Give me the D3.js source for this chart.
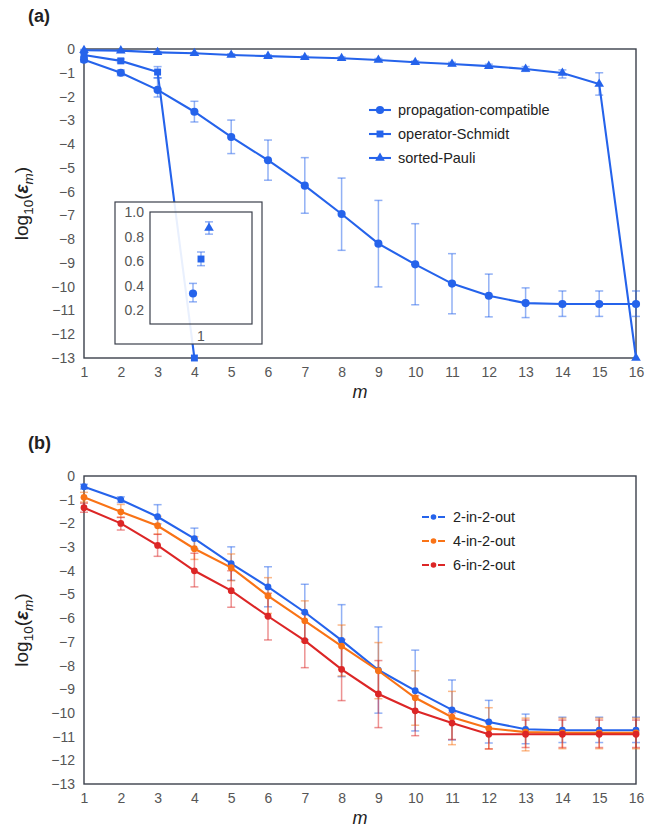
<!DOCTYPE html>
<html>
<head>
<meta charset="utf-8">
<style>
	body{ margin:0; background:#fff; }
	.tick text{ font-family: "Liberation Sans", Arial, sans-serif; font-size:14px; fill:#555; }
	.frame{ fill:none; stroke:#3b404b; stroke-width:1.4px; }
	.lbl{ font-family: "Liberation Sans", Arial, sans-serif; fill:#222; }
</style>
</head>
<body>
<script src="https://d3js.org/d3.v7.min.js"></script>
<script>

	var mVals = d3.range(1, 17);
	var yTicks = d3.range(0, -14, -1);

	// panel (a)
	var propMean = [-0.45,-1.0,-1.72,-2.64,-3.70,-4.68,-5.75,-6.94,-8.19,-9.06,-9.87,-10.38,-10.69,-10.73,-10.73,-10.73];
	var propHi   = [-0.35,-0.88,-1.21,-2.2,-2.99,-3.83,-4.57,-5.43,-6.37,-7.35,-8.61,-9.47,-10.05,-10.18,-10.18,-10.18];
	var propLo   = [-0.55,-1.12,-2.02,-3.07,-4.40,-5.52,-6.91,-8.47,-10.01,-10.76,-11.14,-11.27,-11.30,-11.25,-11.25,-11.25];

	var schmMean = [-0.25,-0.5,-0.97,-13];
	var schmHi   = [-0.18,-0.42,-0.74,-13];
	var schmLo   = [-0.32,-0.58,-1.22,-13];

	var pauliMean = [-0.05,-0.07,-0.14,-0.18,-0.25,-0.3,-0.35,-0.39,-0.46,-0.56,-0.63,-0.72,-0.84,-1.01,-1.47,-13];
	var pauliHi   = [-0.02,-0.04,-0.1,-0.14,-0.2,-0.25,-0.29,-0.33,-0.4,-0.5,-0.56,-0.64,-0.74,-0.88,-1.0,-13];
	var pauliLo   = [-0.08,-0.1,-0.18,-0.22,-0.3,-0.35,-0.41,-0.45,-0.52,-0.62,-0.7,-0.8,-0.94,-1.22,-1.94,-13];

	var namesA = ["propagation-compatible", "operator-Schmidt", "sorted-Pauli"];
	var insetMean = [0.338, 0.618, 0.87];
	var insetHi   = [0.42, 0.675, 0.92];
	var insetLo   = [0.27, 0.564, 0.82];
	var insetTicks = [0.2, 0.4, 0.6, 0.8, 1.0];

	// panel (b)
	var namesB = ["2-in-2-out", "4-in-2-out", "6-in-2-out"];
	var b2Mean = propMean, b2Hi = propHi, b2Lo = propLo;
	var b4Mean = [-0.9,-1.51,-2.10,-3.07,-3.87,-5.06,-6.11,-7.18,-8.22,-9.36,-10.18,-10.65,-10.81,-10.84,-10.84,-10.84];
	var b4Hi   = [-0.69,-1.2,-1.7,-2.56,-3.29,-4.29,-5.27,-6.29,-7.03,-8.22,-9.09,-9.78,-10.22,-10.22,-10.22,-10.22];
	var b4Lo   = [-1.1,-1.74,-2.46,-3.52,-4.42,-5.8,-7.0,-8.44,-9.4,-10.52,-11.34,-11.52,-11.6,-11.51,-11.51,-11.51];
	var b6Mean = [-1.34,-2.0,-2.93,-4.0,-4.84,-5.92,-6.95,-8.16,-9.2,-9.91,-10.43,-10.9,-10.9,-10.9,-10.9,-10.9];
	var b6Hi   = [-1.15,-1.75,-2.46,-3.26,-4.0,-4.95,-5.8,-6.9,-7.79,-9.27,-10.0,-10.4,-10.3,-10.3,-10.3,-10.3];
	var b6Lo   = [-1.53,-2.28,-3.39,-4.68,-5.54,-6.92,-8.09,-9.48,-10.62,-10.96,-11.12,-11.52,-11.46,-11.46,-11.46,-11.46];

	var blue = "#2563eb", orange = "#f97316", red = "#dc2626";

	var svg = d3.select("body").append("svg")
		.attr("width", 659)
		.attr("height", 831)
		.style("display", "block");

	function mk(mean, hi, lo){
		return mean.map(function(v, i){ return {m: i + 1, v: v, hi: hi[i], lo: lo[i]}; });
	}

	function symbolPath(shape, size){
		var t = shape == "square" ? d3.symbolSquare : shape == "triangle" ? d3.symbolTriangle : d3.symbolCircle;
		return d3.symbol().type(t).size(size)();
	}

	function panel(top, bottom, label, series){
		var x = d3.scaleLinear().domain([1, 16]).range([84, 636]);
		var y = d3.scaleLinear().domain([0, -13]).range([top, bottom]);
		var g = svg.append("g");

		g.append("text").attr("class", "lbl")
			.attr("x", 28).attr("y", top - 27)
			.attr("font-size", "18px").attr("font-weight", "bold")
			.text(label);

		g.append("g").attr("transform", "translate(84,0)")
			.call(d3.axisLeft(y).tickValues(yTicks).tickSize(0).tickPadding(9).tickFormat(d3.format("d")))
			.call(function(a){ a.select(".domain").remove(); });

		g.append("g").attr("transform", "translate(0," + bottom + ")")
			.call(d3.axisBottom(x).tickValues(mVals).tickSize(0).tickPadding(9).tickFormat(d3.format("d")))
			.call(function(a){ a.select(".domain").remove(); });

		g.append("rect").attr("class", "frame")
			.attr("x", 84).attr("y", top).attr("width", 552).attr("height", bottom - top);

		var line = d3.line().x(function(d){ return x(d.m); }).y(function(d){ return y(d.v); });

		series.forEach(function(s){
			var eb = g.append("g").attr("stroke", s.color).attr("stroke-opacity", 0.5).attr("stroke-width", 1.5);
			s.data.forEach(function(d){
				if (d.hi == d.lo) return;
				eb.append("line").attr("x1", x(d.m)).attr("x2", x(d.m)).attr("y1", y(d.hi)).attr("y2", y(d.lo));
				eb.append("line").attr("x1", x(d.m) - 4).attr("x2", x(d.m) + 4).attr("y1", y(d.hi)).attr("y2", y(d.hi));
				eb.append("line").attr("x1", x(d.m) - 4).attr("x2", x(d.m) + 4).attr("y1", y(d.lo)).attr("y2", y(d.lo));
			});
		});

		series.forEach(function(s){
			g.append("path").datum(s.data)
				.attr("fill", "none").attr("stroke", s.color).attr("stroke-width", 2.1)
				.attr("d", line);
			g.selectAll(null).data(s.data).enter().append("path")
				.attr("transform", function(d){ return "translate(" + x(d.m) + "," + y(d.v) + ")"; })
				.attr("d", symbolPath(s.shape, s.size))
				.attr("fill", s.color);
		});

		// axis titles
		var yl = g.append("text").attr("class", "lbl")
			.attr("transform", "translate(28," + ((top + bottom) / 2) + ") rotate(-90)")
			.attr("text-anchor", "middle").attr("font-size", "19px");
		yl.append("tspan").text("log");
		yl.append("tspan").attr("font-size", "13.5px").attr("dy", 5).text("10");
		yl.append("tspan").attr("dy", -5).text("(");
		yl.append("tspan").attr("font-style", "italic").attr("font-weight", "bold").text("ε");
		yl.append("tspan").attr("font-style", "italic").attr("font-size", "13.5px").attr("dy", 5).text("m");
		yl.append("tspan").attr("dy", -5).text(")");

		g.append("text").attr("class", "lbl")
			.attr("x", 360).attr("y", bottom + 40)
			.attr("text-anchor", "middle").attr("font-size", "18px").attr("font-style", "italic")
			.text("m");

		return {x: x, y: y, g: g};
	}

	// ----- panel (a)
	var seriesA = [
		{name: namesA[0], color: blue, shape: "circle", size: 52, data: mk(propMean, propHi, propLo)},
		{name: namesA[1], color: blue, shape: "square", size: 48, data: mk(schmMean, schmHi, schmLo)},
		{name: namesA[2], color: blue, shape: "triangle", size: 40, data: mk(pauliMean, pauliHi, pauliLo)}
	];
	var pa = panel(49, 358, "(a)", seriesA);

	var legA = pa.g.append("g");
	seriesA.forEach(function(s, i){
		var ly = 110 + i * 24;
		legA.append("line").attr("x1", 369).attr("x2", 391).attr("y1", ly).attr("y2", ly)
			.attr("stroke", s.color).attr("stroke-width", 2.1);
		legA.append("path").attr("transform", "translate(380," + ly + ")")
			.attr("d", symbolPath(s.shape, s.size)).attr("fill", s.color);
		legA.append("text").attr("class", "lbl").attr("x", 398).attr("y", ly + 5)
			.attr("font-size", "14.5px").text(s.name);
	});

	// inset (semi-opaque, the operator-Schmidt drop shows faintly through it)
	var inset = svg.append("g");
	inset.append("rect").attr("x", 115).attr("y", 202).attr("width", 147).attr("height", 142)
		.attr("fill", "#fff").attr("fill-opacity", 0.9).attr("stroke", "#3b404b").attr("stroke-width", 1.2);
	var ix = d3.scaleBand().domain([1]).range([150, 252]);
	var iy = d3.scaleLinear().domain([0.09, 1.0]).range([324, 212]);
	var off = d3.scalePoint().domain(namesA).range([-8, 8]);
	inset.append("g").attr("transform", "translate(150,0)")
		.call(d3.axisLeft(iy).tickValues(insetTicks).tickSize(0).tickPadding(6).tickFormat(d3.format(".1f")))
		.call(function(a){ a.select(".domain").remove(); });
	inset.append("g").attr("transform", "translate(0,324)")
		.call(d3.axisBottom(ix).tickSize(0).tickPadding(7))
		.call(function(a){ a.select(".domain").remove(); });
	inset.append("rect").attr("x", 150).attr("y", 212).attr("width", 102).attr("height", 112)
		.attr("fill", "none").attr("stroke", "#3b404b").attr("stroke-width", 1.2);
	seriesA.forEach(function(s, i){
		var cx = ix(1) + ix.bandwidth() / 2 + off(s.name);
		var eb = inset.append("g").attr("stroke", s.color).attr("stroke-opacity", 0.5).attr("stroke-width", 1.5);
		eb.append("line").attr("x1", cx).attr("x2", cx).attr("y1", iy(insetHi[i])).attr("y2", iy(insetLo[i]));
		eb.append("line").attr("x1", cx - 4).attr("x2", cx + 4).attr("y1", iy(insetHi[i])).attr("y2", iy(insetHi[i]));
		eb.append("line").attr("x1", cx - 4).attr("x2", cx + 4).attr("y1", iy(insetLo[i])).attr("y2", iy(insetLo[i]));
		inset.append("path").attr("transform", "translate(" + cx + "," + iy(insetMean[i]) + ")")
			.attr("d", symbolPath(s.shape, s.size)).attr("fill", s.color);
	});

	// ----- panel (b)
	var seriesB = [
		{name: namesB[0], color: blue, shape: "circle", size: 36, data: mk(b2Mean, b2Hi, b2Lo)},
		{name: namesB[1], color: orange, shape: "circle", size: 36, data: mk(b4Mean, b4Hi, b4Lo)},
		{name: namesB[2], color: red, shape: "circle", size: 36, data: mk(b6Mean, b6Hi, b6Lo)}
	];
	var pb = panel(476, 784, "(b)", seriesB);

	var legB = pb.g.append("g");
	seriesB.forEach(function(s, i){
		var ly = 517 + i * 24;
		legB.append("line").attr("x1", 422).attr("x2", 445).attr("y1", ly).attr("y2", ly)
			.attr("stroke", s.color).attr("stroke-width", 2.1).attr("stroke-dasharray", "7,2.5,4,2.5,7");
		legB.append("circle").attr("cx", 433.5).attr("cy", ly).attr("r", 2.8).attr("fill", s.color);
		legB.append("text").attr("class", "lbl").attr("x", 453).attr("y", ly + 5)
			.attr("font-size", "14.5px").text(s.name);
	});

</script>
</body>
</html>
